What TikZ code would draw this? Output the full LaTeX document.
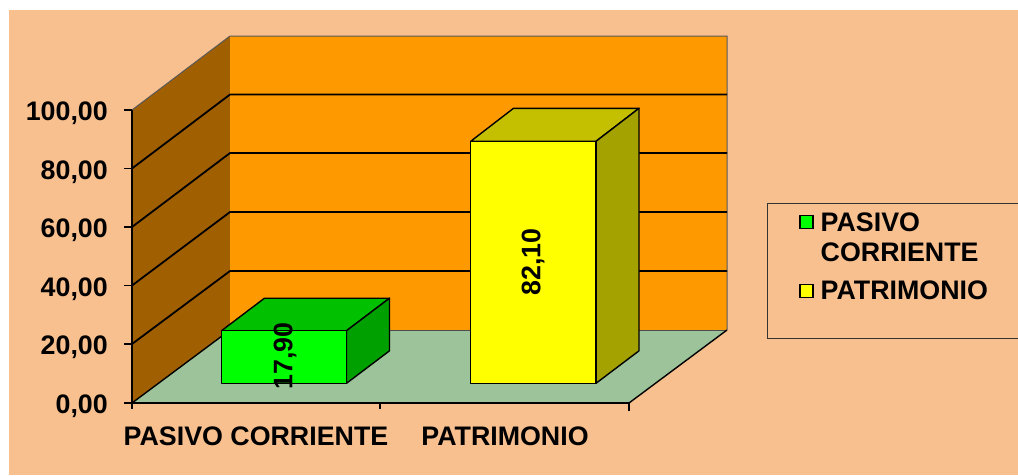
\documentclass[tikz,border=0pt]{standalone}
\usepackage{fontspec}
\setmainfont{Liberation Sans}
\usepackage{tikz}

\definecolor{peach}{HTML}{F9C08F}
\definecolor{sidewall}{HTML}{A05F00}
\definecolor{backwall}{HTML}{FF9900}
\definecolor{floorgreen}{HTML}{9CC39A}
\definecolor{greenfront}{HTML}{00FF00}
\definecolor{greentop}{HTML}{00C000}
\definecolor{greenside}{HTML}{00A000}
\definecolor{yellowfront}{HTML}{FFFF00}
\definecolor{yellowtop}{HTML}{C4C000}
\definecolor{yellowside}{HTML}{A4A200}

\tikzset{
  lbl/.style={font=\fontsize{26.8}{30}\selectfont\bfseries, inner sep=0pt},
  grid line/.style={line width=1.8pt, black},
  face/.style={draw=black, line width=1.4pt, line join=round},
  keybox/.style={draw=black, line width=1.6pt, minimum size=13pt, inner sep=0pt}
}

\begin{document}
\begin{tikzpicture}[x=1pt,y=-1pt]
\useasboundingbox (0,0) rectangle (1018,475);
\fill[peach] (9,10) rectangle (1018,475);

% corners of the box
\coordinate (o) at (132,403);
\coordinate (t) at (132,110);
\coordinate (f) at (629,403);
\coordinate (bo) at (230,330);
\coordinate (bt) at (230,36);
\coordinate (br) at (727,330);
\coordinate (brt) at (727,36);

% walls and floor
\fill[sidewall] (o)--(t)--(bt)--(bo)--cycle;
\fill[backwall] (bo) rectangle (brt);
\fill[floorgreen] (o)--(bo)--(br)--(f)--cycle;
\draw[gray!70!black, line width=1pt] (t)--(bt)--(brt)--(br);

% grid lines
\draw[grid line] (132,344)--(230,271)--(727,271);
\draw[grid line] (132,285.5)--(230,212)--(727,212);
\draw[grid line] (132,227)--(230,153)--(727,153);
\draw[grid line] (132,168.5)--(230,94.5)--(727,94.5);
\draw[black!70, line width=0.8pt] (bo)--(br);
\draw[black, line width=1.4pt] (o)--(bo);
\draw[black, line width=1.4pt] (f)--(br);

% axes
\draw[black, line width=1.4pt] (t)--(o)--(f);
\draw[black, line width=1.2pt] (124,110)--(132,110);
\draw[black, line width=1.2pt] (124,168.5)--(132,168.5);
\draw[black, line width=1.2pt] (124,227)--(132,227);
\draw[black, line width=1.2pt] (124,285.5)--(132,285.5);
\draw[black, line width=1.2pt] (124,344)--(132,344);
\draw[black, line width=1.2pt] (124,403)--(132,403);
\draw[black, line width=1.2pt] (132,403)--(132,409);
\draw[black, line width=1.2pt] (380,403)--(380,409);
\draw[black, line width=1.2pt] (629,403)--(629,411);

\node[lbl, anchor=base east] (y100) at (108,120.5) {100,00};
\node[lbl, anchor=base east] (y80) at (108,179) {80,00};
\node[lbl, anchor=base east] (y60) at (108,237.5) {60,00};
\node[lbl, anchor=base east] (y40) at (108,296) {40,00};
\node[lbl, anchor=base east] (y20) at (108,354.5) {20,00};
\node[lbl, anchor=base east] (y0) at (108,413.5) {0,00};

% green bar
\fill[greentop, face] (221.5,330.7)--(264.5,298.2)--(389.5,298.2)--(346.5,330.7)--cycle;
\fill[greenside, face] (346.5,330.7)--(389.5,298.2)--(389.5,350.8)--(346.5,383.3)--cycle;
\fill[greenfront, face] (221.5,330.7) rectangle (346.5,383.3);

% yellow bar
\fill[yellowtop, face] (470.7,141.3)--(513.5,108.3)--(639,108.3)--(596,141.3)--cycle;
\fill[yellowside, face] (596,141.3)--(639,108.3)--(639,350.8)--(596,383.3)--cycle;
\fill[yellowfront, face] (470.7,141.3) rectangle (596,383.3);

% values
\node[lbl, rotate=90] (v1) at (285,356) {17,90};
\node[lbl, rotate=90] (v2) at (533,262) {82,10};

% categories
\node[lbl, anchor=base] (c1) at (256,445) {PASIVO CORRIENTE};
\node[lbl, anchor=base] (c2) at (505,445) {PATRIMONIO};

% legend
\draw[black!80, line width=1pt] (767,203) rectangle (1030,338);
\node[keybox, fill=greenfront] (k1) at (806.5,222) {};
\node[keybox, fill=yellowfront] (k2) at (806.5,291) {};
\node[lbl, anchor=base west] (l1) at (820.5,231.7) {PASIVO};
\node[lbl, anchor=base west] (l1b) at (820.5,261.7) {CORRIENTE};
\node[lbl, anchor=base west] (l2) at (820.5,299.3) {PATRIMONIO};
\end{tikzpicture}
\end{document}
